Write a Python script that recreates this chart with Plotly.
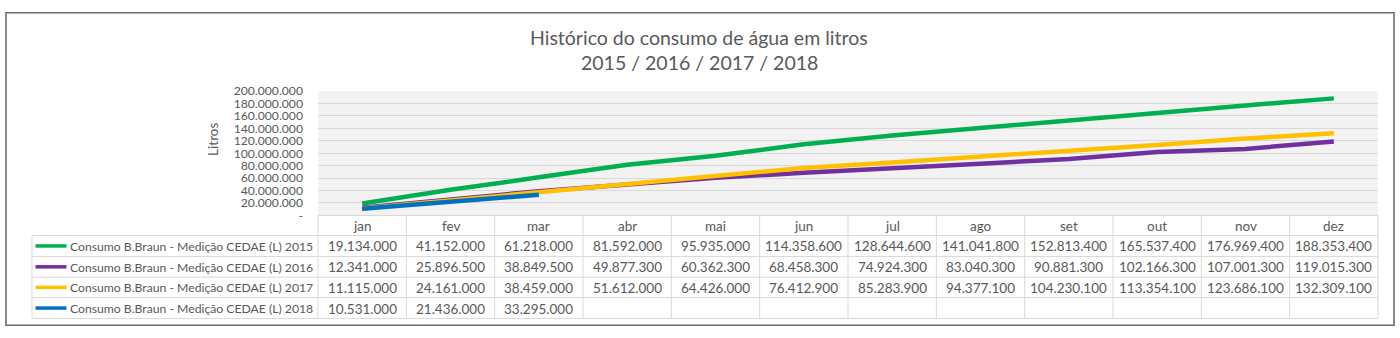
import plotly.graph_objects as go

W, H = 1400, 338

months = ["jan", "fev", "mar", "abr", "mai", "jun", "jul", "ago", "set", "out", "nov", "dez"]
series_names = [
    "Consumo B.Braun - Medição CEDAE (L) 2015",
    "Consumo B.Braun - Medição CEDAE (L) 2016",
    "Consumo B.Braun - Medição CEDAE (L) 2017",
    "Consumo B.Braun - Medição CEDAE (L) 2018",
]
v2015 = [19134000, 41152000, 61218000, 81592000, 95935000, 114358600, 128644600,
         141041800, 152813400, 165537400, 176969400, 188353400]
v2016 = [12341000, 25896500, 38849500, 49877300, 60362300, 68458300, 74924300,
         83040300, 90881300, 102166300, 107001300, 119015300]
v2017 = [11115000, 24161000, 38459000, 51612000, 64426000, 76412900, 85283900,
         94377100, 104230100, 113354100, 123686100, 132309100]
v2018 = [10531000, 21436000, 33295000]
colors = ["#00b050", "#7030a0", "#ffc000", "#0070c0"]
y_ticks = [0, 20e6, 40e6, 60e6, 80e6, 100e6, 120e6, 140e6, 160e6, 180e6, 200e6]
title_lines = ["Histórico do consumo de água em litros", "2015 / 2016 / 2017 / 2018"]

all_series = [v2015, v2016, v2017, v2018]


def fmt(v):
    if v == 0:
        return "-"
    return f"{int(v):,}".replace(",", ".")


def px(x):
    return x / W


def py(y):
    return 1 - y / H


FONT = "Lato"
TXT = "#595959"
GRID = "#d9d9d9"

# layout geometry (pixels)
PL, PR, PT, PB = 318, 1378, 87, 217
ROW_TOP = [217, 238, 260, 281.7, 303]
TBL_BOTTOM = 325
LBL_L = 32

fig = go.Figure()
for name, vals, c in zip(series_names, all_series, colors):
    fig.add_trace(go.Scatter(
        x=months[:len(vals)], y=vals, mode="lines", name=name,
        line=dict(color=c, width=4.5), showlegend=False,
    ))

shapes = []
annotations = []

# outer border
shapes.append(dict(type="rect", xref="paper", yref="paper", x0=px(6), x1=px(1394),
                   y0=py(332), y1=py(5), line=dict(color="#6b6b6b", width=1.6)))

colw = (PR - PL) / len(months)
for yy in ROW_TOP[1:] + [TBL_BOTTOM]:
    shapes.append(dict(type="line", xref="paper", yref="paper", x0=px(LBL_L), x1=px(PR),
                       y0=py(yy), y1=py(yy), line=dict(color=GRID, width=1)))
for j in range(len(months) + 1):
    xx = PL + j * colw
    shapes.append(dict(type="line", xref="paper", yref="paper", x0=px(xx), x1=px(xx),
                       y0=py(PB), y1=py(TBL_BOTTOM), line=dict(color=GRID, width=1)))
shapes.append(dict(type="line", xref="paper", yref="paper", x0=px(LBL_L), x1=px(LBL_L),
                   y0=py(ROW_TOP[1]), y1=py(TBL_BOTTOM), line=dict(color=GRID, width=1)))

for j, m in enumerate(months):
    annotations.append(dict(xref="paper", yref="paper", x=px(PL + (j + 0.5) * colw),
                            y=py((ROW_TOP[0] + ROW_TOP[1]) / 2 + 0.5), text=m, showarrow=False,
                            xanchor="center", yanchor="middle",
                            font=dict(family=FONT, size=13.5, color=TXT)))

bounds = ROW_TOP[1:] + [TBL_BOTTOM]
for i, (name, vals, c) in enumerate(zip(series_names, all_series, colors)):
    yc = (bounds[i] + bounds[i + 1]) / 2 + 0.5
    shapes.append(dict(type="line", xref="paper", yref="paper", x0=px(35.5), x1=px(66.5),
                       y0=py(yc - 0.5), y1=py(yc - 0.5), line=dict(color=c, width=3.5)))
    annotations.append(dict(xref="paper", yref="paper", x=px(67.5), y=py(yc), text=name,
                            showarrow=False, xanchor="left", yanchor="middle",
                            font=dict(family=FONT, size=12.2, color=TXT)))
    for j, v in enumerate(vals):
        annotations.append(dict(xref="paper", yref="paper", x=px(PL + (j + 0.5) * colw),
                                y=py(yc), text=fmt(v), showarrow=False,
                                xanchor="center", yanchor="middle",
                                font=dict(family=FONT, size=13.5, color=TXT)))

annotations.append(dict(xref="paper", yref="paper", x=px(213), y=py(138), text="Litros",
                        showarrow=False, textangle=-90, xanchor="center", yanchor="middle",
                        font=dict(family=FONT, size=13.5, color=TXT)))

for k, (t, yy) in enumerate(zip(title_lines, [31, 57])):
    annotations.append(dict(xref="paper", yref="paper", x=px(699), y=py(yy), text=t,
                            showarrow=False, xanchor="center", yanchor="middle",
                            font=dict(family=FONT, size=19.5, color=TXT)))

fig.update_layout(
    width=W, height=H, autosize=False,
    margin=dict(l=0, r=0, t=0, b=0),
    paper_bgcolor="white", plot_bgcolor="#f2f2f2",
    shapes=shapes, annotations=annotations,
    xaxis=dict(domain=[px(PL), px(PR)], type="category", categoryorder="array",
               categoryarray=months, range=[-0.5, 11.5], showticklabels=False,
               showgrid=False, zeroline=False, showline=True, linecolor=GRID, linewidth=1),
    yaxis=dict(domain=[py(PB), py(PT)], range=[0, 200e6], tickvals=y_ticks,
               ticktext=[fmt(v) for v in y_ticks], showgrid=True, gridcolor=GRID,
               gridwidth=1.3, zeroline=False, ticklabelstandoff=14,
               tickfont=dict(family=FONT, size=12.2, color=TXT)),
)

fig.write_html("out.html")
